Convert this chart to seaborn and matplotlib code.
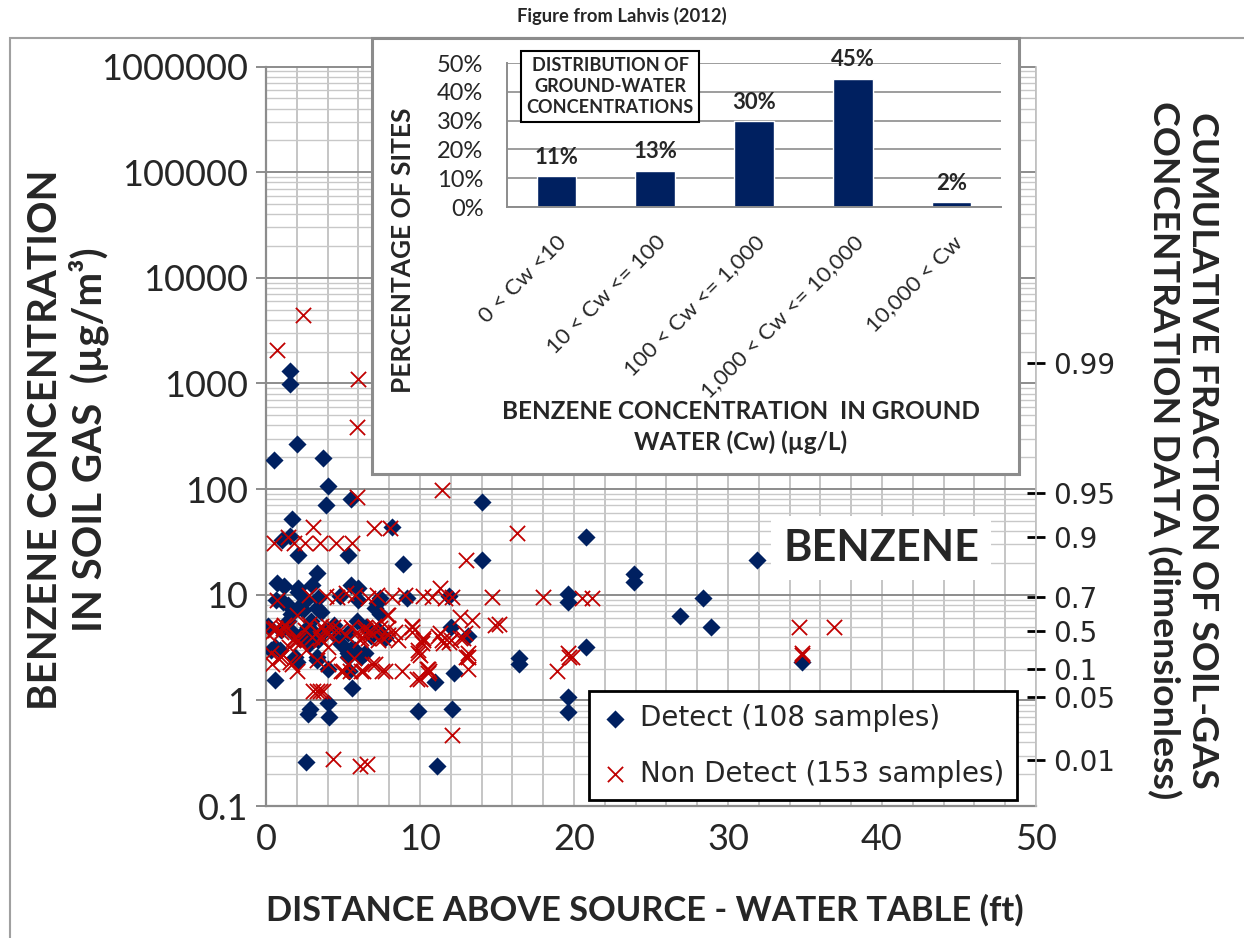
import numpy as np
import pandas as pd
import matplotlib
matplotlib.use("Agg")
import matplotlib.pyplot as plt
import seaborn as sns
from matplotlib import font_manager
from matplotlib.ticker import LogLocator, NullFormatter, MultipleLocator, NullLocator, FixedLocator
from matplotlib.patches import Rectangle

# ---------------- data ----------------
det_x = [1.56, 1.56, 2.0, 0.5, 3.7, 4.0, 3.9, 5.5, 14.0, 14.0, 8.9, 8.2, 20.8, 23.9, 23.9, 19.6, 19.6,
         11.9, 9.15, 5.3, 2.1, 1.7, 0.7, 3.3, 3.0, 2.1, 2.1, 1.05, 1.56, 5.5, 6.0, 3.4, 7.4, 0.65, 1.4,
         2.1, 3.3, 3.6, 2.4, 0.13, 1.4, 1.7, 0.6, 2.7, 3.4, 3.3, 1.9, 7.1, 7.4, 5.3, 5.6, 5.3, 6.2, 7.3,
         0.6, 2.0, 3.3, 4.0, 5.6, 5.3, 5.8, 5.4, 4.0, 2.85, 2.7, 4.1, 2.6, 6.4, 12.0, 13.1, 7.7, 12.2,
         11.0, 9.9, 12.1, 11.1, 16.4, 16.4, 20.8, 19.6, 19.6, 26.9, 31.9, 28.4, 28.9, 34.8,
         1.0, 2.3, 3.0, 4.4, 4.6, 0.9, 2.8, 6.8, 6.5, 1.2, 2.6, 4.8, 0.3, 1.6, 2.9, 3.8, 6.0, 7.2, 1.1,
         4.9, 2.2, 5.9]
det_y = [1300, 980, 265, 190, 195, 108, 70, 80, 75, 21.5, 19.6, 44, 35, 15.8, 13.2, 10.2, 8.5,
         9.8, 9.4, 24, 24, 52, 13, 16, 12.3, 11.7, 10.5, 33, 36, 12.3, 11.7, 9.4, 9.4, 9.0, 8.0,
         7.5, 7.5, 6.8, 7.2, 5.1, 5.7, 4.4, 3.2, 4.9, 3.7, 2.6, 2.6, 7.5, 6.6, 4.3, 3.1, 2.6, 2.6, 4.6,
         1.56, 2.3, 2.4, 2.0, 1.32, 2.8, 3.0, 1.9, 0.95, 0.83, 0.74, 0.69, 0.26, 2.8, 5.0, 4.1, 3.9, 1.82,
         1.5, 0.8, 0.83, 0.24, 2.5, 2.2, 3.2, 1.07, 0.78, 6.3, 21.5, 9.3, 4.9, 2.3,
         4.6, 4.2, 4.5, 5.2, 4.0, 3.0, 3.4, 4.1, 5.0, 12.0, 9.0, 9.8, 3.0, 6.6, 5.6, 4.6, 9.0, 8.4, 8.6,
         3.4, 3.8, 5.6]

nd_x = [2.4, 0.7, 6.0, 5.9, 5.9, 11.4, 7.0, 8.05, 3.05, 16.3, 13.0, 0.5, 1.4, 2.5, 3.5, 4.55, 5.6, 1.8,
        0.7, 4.6, 5.8, 6.6, 2.0, 0.6, 1.1, 2.1, 1.8, 3.6, 3.8, 3.0, 3.6, 6.4, 6.2, 5.9, 0.3, 0.8, 1.7,
        2.0, 3.05, 3.3, 3.5, 3.7, 4.0, 4.35, 6.1, 6.55, 4.9, 5.3, 6.2, 6.9, 7.5, 8.2, 9.0, 10.8, 11.3,
        11.6, 12.1, 14.7, 13.4, 14.9, 7.9, 9.5, 10.2, 10.1, 9.9, 10.0, 11.3, 11.4, 12.0, 11.5, 12.9,
        12.8, 13.1, 7.4, 7.9, 7.3, 7.7, 8.8, 10.0, 10.5, 10.5, 13.1, 13.1, 12.1, 18.0, 20.5, 21.2,
        15.1, 19.6, 19.7, 19.9, 18.9, 34.6, 36.9, 34.8, 34.8,
        0.26, 0.6, 1.0, 1.4, 2.2, 1.75, 3.3, 3.5, 4.0, 4.35, 4.0, 6.4, 6.6, 6.1, 7.6, 7.9, 7.85, 9.5,
        9.5, 10.2, 11.2, 11.9, 12.6, 1.0, 1.56, 3.3, 5.0, 5.45, 6.3, 7.1, 9.9, 9.8, 10.45, 10.6, 13.0,
        0.2, 1.2, 2.5, 2.8, 4.2, 4.8, 5.2, 5.5, 6.8, 7.0, 8.4, 8.6, 1.5, 2.6, 5.7, 3.9, 5.2, 2.8, 10.2,
        12.6, 7.2, 0.4]
nd_y = [4400, 2050, 1090, 385, 85, 97, 43, 43, 44, 38, 21.5, 31, 35, 31, 31, 31, 31, 31,
        9.0, 9.5, 10.0, 9.4, 6.4, 4.8, 4.8, 3.7, 3.9, 5.1, 4.4, 4.0, 3.7, 4.9, 3.9, 4.4, 2.8, 2.5, 2.2,
        1.9, 1.23, 1.23, 1.23, 1.23, 2.2, 0.28, 0.24, 0.25, 1.9, 2.2, 1.9, 2.2, 1.9, 9.6, 10.0, 9.6, 11.7,
        9.4, 9.6, 9.6, 5.8, 5.2, 6.4, 4.9, 3.9, 3.5, 2.8, 2.7, 4.3, 3.7, 3.7, 3.5, 4.3,
        3.9, 2.8, 4.8, 4.2, 3.7, 1.9, 1.9, 1.6, 1.8, 2.0, 2.6, 2.0, 0.47, 9.6, 9.4, 9.4,
        5.3, 2.8, 2.6, 2.6, 1.9, 4.9, 4.9, 2.8, 2.7,
        5.1, 4.6, 4.4, 4.8, 3.5, 3.7, 4.4, 3.9, 5.1, 4.9, 3.2, 4.6, 3.9, 3.7, 3.9, 4.8, 6.4, 5.1,
        4.4, 3.7, 4.1, 3.6, 3.9, 2.6, 2.3, 2.4, 1.9, 1.9, 1.9, 2.2, 3.0, 1.6, 2.0, 1.9, 2.6,
        4.2, 5.2, 4.6, 5.3, 4.2, 4.6, 4.2, 5.0, 4.4, 5.1, 4.4, 3.7, 3.2, 3.0, 2.5, 9.8, 10.3, 9.9, 9.8,
        6.2, 10.0, 2.2]

main_yticks = [0.1, 1, 10, 100, 1000, 10000, 100000, 1000000]
main_yticklabels = ["0.1", "1", "10", "100", "1000", "10000", "100000", "1000000"]
main_xticks = [0, 10, 20, 30, 40, 50]

cf_labels = ["0.01", "0.05", "0.1", "0.5", "0.7", "0.9", "0.95", "0.99"]
cf_conc = [0.27, 1.07, 2.0, 4.5, 9.5, 35, 91, 1550]

gw_categories = ["0 < Cw <10", "10 < Cw <= 100", "100 < Cw <= 1,000", "1,000 < Cw <= 10,000", "10,000 < Cw"]
gw_percent = [10.8, 12.6, 29.8, 44.6, 1.7]
gw_yticks = [0, 10, 20, 30, 40, 50]

# ---------------- style ----------------
sns.set_style("white")
names = {f.name for f in font_manager.fontManager.ttflist}
NARROW = "Liberation Sans Narrow" if "Liberation Sans Narrow" in names else "Lato"
k = 1.0 if NARROW == "Liberation Sans Narrow" else 0.84
REG = "Lato" if "Lato" in names else "DejaVu Sans"
plt.rcParams["font.family"] = [REG, "DejaVu Sans"]

NAVY = "#002060"
RED = "#C00000"
GRID_MAJ = "#8C8C8C"
GRID_MIN = "#C8C8C8"

W, H = 1244, 938
fig = plt.figure(figsize=(W / 100, H / 100), dpi=100)
fig.patch.set_facecolor("white")


def fx(px):
    return px / W


def fy(py):
    return 1 - py / H


# outer chart border
fig.add_artist(Rectangle((fx(10), -0.05), 1.2, fy(38) + 0.05, transform=fig.transFigure,
                         fill=False, edgecolor="#A0A0A0", lw=1.5, zorder=-1))

# ---------------- main axes ----------------
ax = fig.add_axes([fx(266), fy(806), (1036 - 266) / W, (806 - 66.5) / H])
ax.set_facecolor("none")
df_det = pd.DataFrame({"dist": det_x, "conc": det_y})
df_nd = pd.DataFrame({"dist": nd_x, "conc": nd_y})
sns.scatterplot(data=df_det, x="dist", y="conc", marker="D", s=85, color=NAVY, edgecolor=NAVY,
                linewidth=0, ax=ax, label="Detect (108 samples)", zorder=3)
sns.scatterplot(data=df_nd, x="dist", y="conc", marker="x", s=120, color=RED, linewidth=1.3,
                ax=ax, label="Non Detect (153 samples)", zorder=4)

ax.set_yscale("log")
ax.set_xlim(0, 50)
ax.set_ylim(0.1, 1e6)
ax.set_yticks(main_yticks)
ax.set_yticklabels(main_yticklabels)
ax.yaxis.set_minor_locator(LogLocator(base=10, subs=np.arange(2, 10), numticks=100))
ax.yaxis.set_minor_formatter(NullFormatter())
ax.set_xticks(main_xticks)
ax.xaxis.set_minor_locator(MultipleLocator(2))
ax.set_xlabel("")
ax.set_ylabel("")
ax.set_axisbelow(True)
ax.grid(which="major", axis="y", color=GRID_MAJ, lw=1.4)
ax.grid(which="minor", axis="y", color=GRID_MIN, lw=1.0)
ax.grid(which="both", axis="x", color="#C0C0C0", lw=1.3)
ax.tick_params(axis="y", which="major", direction="out", length=7, width=1.4, color=GRID_MAJ,
               labelsize=26, pad=6)
ax.tick_params(axis="x", which="major", direction="out", length=6, width=1.4, color=GRID_MAJ,
               labelsize=26, pad=6)
ax.tick_params(which="minor", length=0)
for s in ["top", "right"]:
    ax.spines[s].set_visible(False)
for s in ["left", "bottom"]:
    ax.spines[s].set_color(GRID_MAJ)
    ax.spines[s].set_linewidth(1.6)

handles, labels = ax.get_legend_handles_labels()
leg = ax.legend(handles, labels, loc="lower right", bbox_to_anchor=(0.975, 0.008), frameon=True,
                fancybox=False, edgecolor="black", framealpha=1, borderaxespad=0,
                prop={"family": "DejaVu Sans", "size": 20}, borderpad=0.45, labelspacing=1.0,
                handlelength=1.0, handletextpad=0.4)
leg.get_frame().set_linewidth(2)
leg.set_zorder(6)

ax.text(0.799, 0.349, "BENZENE", transform=ax.transAxes, ha="center", va="center",
        fontsize=37 * k, fontweight="bold", family=NARROW, zorder=5,
        bbox=dict(boxstyle="square,pad=0.28", fc="white", ec="none"))

# right cumulative-fraction axis
ax2 = ax.twinx()
ax2.set_yscale("log")
ax2.set_ylim(ax.get_ylim())
ax2.yaxis.set_major_locator(FixedLocator(cf_conc))
ax2.set_yticklabels(cf_labels)
ax2.yaxis.set_minor_locator(NullLocator())
ax2.tick_params(axis="y", which="major", direction="inout", length=13, width=2, color="black",
                labelsize=20, pad=6, labelfontfamily="DejaVu Sans")
ax2.grid(False)
for s in ["top", "left", "bottom"]:
    ax2.spines[s].set_visible(False)
ax2.spines["right"].set_color("#BFBFBF")
ax2.spines["right"].set_linewidth(1.2)

# axis titles
fig.text(fx(645), fy(910), "DISTANCE ABOVE SOURCE - WATER TABLE (ft)", ha="center", va="center",
         fontsize=29.5 * k, fontweight="bold", family=NARROW)
fig.text(fx(68), fy(440), "BENZENE CONCENTRATION\nIN SOIL GAS  (µg/m³)", ha="center", va="center",
         rotation=90, fontsize=34.5 * k, fontweight="bold", family=NARROW, linespacing=1.12)
fig.text(fx(1183), fy(450), "CUMULATIVE FRACTION OF SOIL-GAS\nCONCENTRATION DATA (dimensionless)",
         ha="center", va="center", rotation=270, fontsize=32 * k, fontweight="bold", family=NARROW,
         linespacing=1.15)
fig.text(fx(622), fy(16), "Figure from Lahvis (2012)", ha="center", va="center",
         fontsize=15.8 * k, fontweight="bold", family=NARROW)

# ---------------- inset ----------------
fig.add_artist(Rectangle((fx(372), fy(474)), (1019 - 372) / W, (474 - 38) / H,
                         transform=fig.transFigure, facecolor="white", edgecolor="#8C8C8C",
                         lw=2.2, zorder=5))
iax = fig.add_axes([fx(507), fy(207), (1001 - 507) / W, (207 - 63) / H])
iax.set_zorder(6)
iax.set_facecolor("none")
sns.barplot(x=gw_categories, y=gw_percent, color=NAVY, width=0.4, saturation=1, ax=iax)
iax.set_xlim(-0.5, 4.5)
iax.set_ylim(0, 50)
iax.set_yticks(gw_yticks)
iax.set_yticklabels([f"{v}%" for v in gw_yticks])
iax.set_axisbelow(True)
iax.grid(axis="y", color=GRID_MAJ, lw=1.2)
iax.grid(axis="x", visible=False)
iax.set_xticks(range(len(gw_categories)))
iax.set_xticklabels(gw_categories, rotation=45, ha="right", rotation_mode="anchor")
iax.xaxis.set_minor_locator(FixedLocator(np.arange(-0.5, 5, 1.0)))
iax.tick_params(axis="x", which="major", length=0, labelsize=16, pad=18)
iax.tick_params(axis="x", which="minor", direction="out", length=7, width=1.2, color=GRID_MAJ)
iax.tick_params(axis="y", which="major", direction="out", length=5, width=1.2, color=GRID_MAJ,
                labelsize=17, pad=12)
iax.set_xlabel("")
iax.set_ylabel("")
for s in ["top", "right"]:
    iax.spines[s].set_visible(False)
for s in ["left", "bottom"]:
    iax.spines[s].set_color(GRID_MAJ)
    iax.spines[s].set_linewidth(1.4)
iax.bar_label(iax.containers[0], labels=[f"{round(v)}%" for v in gw_percent], padding=6,
              fontsize=19 * k, fontweight="bold", family=NARROW)

fig.text(fx(610), fy(86.5), "DISTRIBUTION OF\nGROUND-WATER\nCONCENTRATIONS", ha="center",
         va="center", fontsize=15.6 * k, fontweight="bold", family=NARROW, linespacing=1.3,
         zorder=10, bbox=dict(boxstyle="square,pad=0.3", fc="white", ec="black", lw=1.5))
fig.text(fx(403), fy(250), "PERCENTAGE OF SITES", ha="center", va="center", rotation=90,
         fontsize=22.5 * k, fontweight="bold", family=NARROW, zorder=10)
fig.text(fx(741), fy(427), "BENZENE CONCENTRATION  IN GROUND\nWATER (Cw) (µg/L)", ha="center",
         va="center", fontsize=20.8 * k, fontweight="bold", family=NARROW, linespacing=1.4,
         zorder=10)

fig.savefig("out.png", dpi=100, facecolor="white")
